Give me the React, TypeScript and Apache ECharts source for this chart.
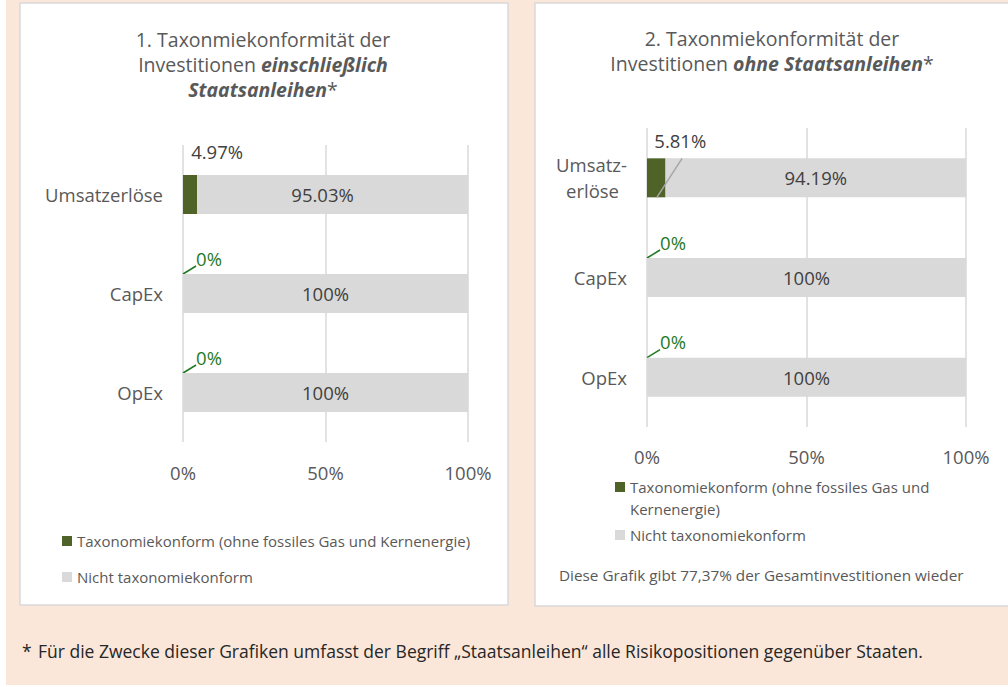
import React, { useEffect, useRef } from "react";
import * as echarts from "echarts";

const categoriesLeft = ["Umsatzerlöse", "CapEx", "OpEx"];
const categoriesRight = ["Umsatz-\nerlöse", "CapEx", "OpEx"];
const seriesNames = [
  "Taxonomiekonform (ohne fossiles Gas und Kernenergie)",
  "Nicht taxonomiekonform",
];
const alignedLeft = [4.97, 0, 0];
const notAlignedLeft = [95.03, 100, 100];
const alignedRight = [5.81, 0, 0];
const notAlignedRight = [94.19, 100, 100];
const axisMin = 0;
const axisMax = 100;
const axisStep = 50;
// leader line of the 5.81% label, in axis values (from, to)
const leaderRightX = [3.1, 11];

const FONT = "'Open Sans', sans-serif";
const GREEN = "#4F6228";
const GREY = "#D9D9D9";
const TEXT = "#595959";
const LABEL_GREEN = "#1F7A1F";
const PEACH = "#FBE7D9";
const BAR_H = 39;

const fmt = (v: number) => (Number.isInteger(v) ? `${v}%` : `${v.toFixed(2)}%`);

export default function App() {
  const ref = useRef<HTMLDivElement>(null);
  useEffect(() => {
    if (!ref.current) return;
    const chart = echarts.init(ref.current, undefined, { renderer: "svg" });

    const xAxisBase = (gridIndex: number, margin: number) => ({
      type: "value",
      gridIndex,
      min: axisMin,
      max: axisMax,
      interval: axisStep,
      axisLine: { show: false },
      axisTick: { show: false },
      splitLine: { show: true, lineStyle: { color: GREY, width: 1.5 } },
      axisLabel: {
        formatter: "{value}%",
        color: TEXT,
        fontFamily: FONT,
        fontSize: 18.5,
        margin,
      },
    });

    const greenSeries = (data: number[], idx: number, first: { dx: number; dy: number }) => ({
      name: seriesNames[0],
      type: "bar",
      stack: "s" + idx,
      xAxisIndex: idx,
      yAxisIndex: idx,
      barWidth: BAR_H,
      itemStyle: { color: GREEN },
      data: data.map((v, i) =>
        i === 0
          ? { value: v, label: { color: "#404040", fontSize: 18.5, lineHeight: 22 }, labelLine: { show: false } }
          : {
              value: v,
              label: { color: LABEL_GREEN, fontSize: 18.5, lineHeight: 20, padding: [0, 0, 16, 0] },
              labelLine: { show: true, lineStyle: { color: LABEL_GREEN, width: 1.5 } },
            }
      ),
      label: {
        show: true,
        position: "top",
        distance: 5,
        fontFamily: FONT,
        formatter: (p: any) => fmt(p.value),
      },
      labelLine: { show: true },
      labelLayout: (p: any) =>
        p.dataIndex === 0 ? { dx: first.dx, dy: first.dy } : { dx: 26, dy: 15 },
    });

    const greySeries = (data: number[], idx: number, firstOffset: number) => ({
      name: seriesNames[1],
      type: "bar",
      stack: "s" + idx,
      xAxisIndex: idx,
      yAxisIndex: idx,
      barWidth: BAR_H,
      itemStyle: { color: GREY },
      data: data.map((v, i) => ({
        value: v,
        label: { offset: [i === 0 ? firstOffset : 0, 0] },
      })),
      label: {
        show: true,
        position: "inside",
        color: "#404040",
        fontFamily: FONT,
        fontSize: 18.5,
        formatter: (p: any) => fmt(p.value),
      },
    });

    const legendText = { color: TEXT, fontFamily: FONT, fontSize: 15 };
    const titleFont = `19.5px ${FONT}`;
    const richB = { b: { fontFamily: FONT, fontSize: 19.5, lineHeight: 21, fontWeight: "bold", fontStyle: "italic", fill: TEXT } };
    const titleStyle = (text: string) => ({
      text, fill: TEXT, font: titleFont, lineHeight: 21, align: "center", verticalAlign: "middle", rich: richB,
    });

    const option: any = {
      animation: false,
      backgroundColor: "#FFFFFF",
      graphic: [
        { type: "rect", z: -20, shape: { x: 6, y: 0, width: 1010, height: 685 }, style: { fill: PEACH } },
        { type: "rect", z: -10, shape: { x: 20, y: 3, width: 488, height: 602 }, style: { fill: "#FFFFFF", stroke: GREY, lineWidth: 1.5 } },
        { type: "rect", z: -10, shape: { x: 535, y: 3, width: 480, height: 603 }, style: { fill: "#FFFFFF", stroke: GREY, lineWidth: 1.5 } },
        { type: "text", z: 50, x: 263, y: 39, style: titleStyle("1. Taxonmiekonformität der") },
        { type: "text", z: 50, x: 263, y: 64, style: titleStyle("Investitionen {b|einschließlich}") },
        { type: "text", z: 50, x: 263, y: 89, style: titleStyle("{b|Staatsanleihen}*") },
        { type: "text", z: 50, x: 772, y: 38, style: titleStyle("2. Taxonmiekonformität der") },
        { type: "text", z: 50, x: 772, y: 63, style: titleStyle("Investitionen {b|ohne Staatsanleihen}*") },
        {
          type: "text", z: 50, x: 559, y: 575,
          style: { text: "Diese Grafik gibt 77,37% der Gesamtinvestitionen wieder", fill: TEXT, font: `15.3px ${FONT}`, align: "left", verticalAlign: "middle" },
        },
        {
          type: "text", z: 50, x: 22, y: 651,
          style: { text: "*", fill: "#262626", font: `17.5px ${FONT}`, align: "left", verticalAlign: "middle" },
        },
        {
          type: "text", z: 50, x: 38, y: 651,
          style: { text: "Für die Zwecke dieser Grafiken umfasst der Begriff „Staatsanleihen“ alle Risikopositionen gegenüber Staaten.", fill: "#262626", font: `17.5px ${FONT}`, align: "left", verticalAlign: "middle" },
        },
      ],
      grid: [
        { left: 183, top: 145, width: 285, height: 297 },
        { left: 647, top: 128, width: 319, height: 299 },
      ],
      xAxis: [xAxisBase(0, 21), xAxisBase(1, 20)],
      yAxis: [
        {
          type: "category", gridIndex: 0, inverse: true, data: categoriesLeft,
          axisLine: { show: false }, axisTick: { show: false },
          axisLabel: { color: TEXT, fontFamily: FONT, fontSize: 18.5, margin: 20 },
        },
        {
          type: "category", gridIndex: 1, inverse: true, data: categoriesRight,
          axisLine: { show: false }, axisTick: { show: false },
          axisLabel: {
            color: TEXT, fontFamily: FONT, fontSize: 18.5, margin: 20, lineHeight: 26,
            formatter: (v: string) => {
              const parts = v.split("\n");
              return parts.length > 1 ? `{a|${parts[0]}}\n{b|${parts[1]}}` : `{a|${v}}`;
            },
            rich: {
              a: { color: TEXT, fontFamily: FONT, fontSize: 18.5, lineHeight: 26 },
              b: { color: TEXT, fontFamily: FONT, fontSize: 18.5, lineHeight: 26, padding: [0, 8, 0, 0] },
            },
          },
        },
      ],
      legend: [
        {
          left: 62, top: 531, orient: "vertical", padding: 0, itemGap: 16,
          itemWidth: 10, itemHeight: 10, icon: "rect", selectedMode: false,
          textStyle: { ...legendText, lineHeight: 20 },
          data: seriesNames,
        },
        {
          left: 615, top: 454, orient: "vertical", padding: 0, itemGap: 4,
          itemWidth: 10, itemHeight: 10, icon: "rect", selectedMode: false,
          textStyle: { ...legendText, lineHeight: 22 },
          formatter: (n: string) => (n === seriesNames[0] ? " \nTaxonomiekonform (ohne fossiles Gas und\nKernenergie)" : n),
          data: seriesNames,
        },
      ],
      series: [
        greenSeries(alignedLeft, 0, { dx: 27, dy: -8 }),
        greySeries(notAlignedLeft, 0, -10),
        greenSeries(alignedRight, 1, { dx: 24, dy: -2 }),
        greySeries(notAlignedRight, 1, 0),
      ],
    };
    chart.setOption(option);

    const a = chart.convertToPixel({ gridIndex: 1 }, [leaderRightX[0], 0]) as number[];
    const b = chart.convertToPixel({ gridIndex: 1 }, [leaderRightX[1], 0]) as number[];
    if (a && b) {
      chart.setOption({
        graphic: [
          {
            id: "leader581",
            type: "line",
            z: 100,
            shape: { x1: a[0], y1: a[1] + BAR_H / 2, x2: b[0], y2: b[1] - BAR_H / 2 },
            style: { stroke: "#A6A6A6", lineWidth: 1.5 },
          },
        ],
      });
    }
    return () => chart.dispose();
  }, []);
  return (
    <div
      ref={ref}
      style={{ position: "absolute", left: 0, top: 0, width: 1008, height: 687 }}
    />
  );
}
